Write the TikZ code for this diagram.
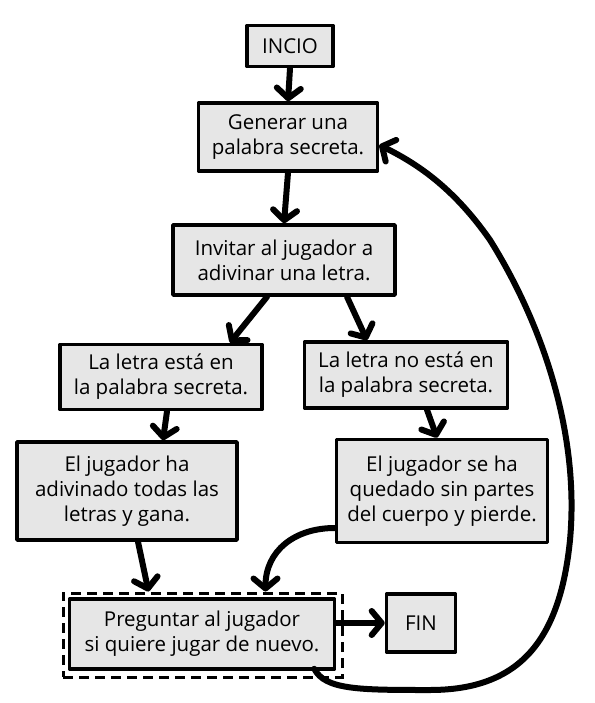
\documentclass[tikz,border=0pt]{standalone}
\usepackage{fontspec}
\setmainfont{Open Sans}
\usetikzlibrary{arrows.meta,fit}
\definecolor{boxgray}{HTML}{E6E6E6}
\tikzset{
  box/.style={draw=black, line width=3.6pt, line join=round, fill=boxgray, align=center, inner sep=0pt,
    font=\fontsize{20.5}{25}\selectfont},
  arr/.style={line width=6pt, line cap=round, -{Straight Barb[length=10pt,width=24pt,round]}},
  outer/.style={draw=black, line width=3pt, dash pattern=on 10pt off 6pt, inner sep=0pt}
}
\begin{document}
\begin{tikzpicture}[x=1pt,y=-1pt]
\useasboundingbox (0,0) rectangle (594,703);
\node[box, minimum width=86pt, minimum height=41pt] (incio) at (290,46) {INCIO};
\node[box, minimum width=179pt, minimum height=68pt] (gen) at (288,137) {Generar una\\palabra secreta.};
\node[box, minimum width=222pt, minimum height=70pt] (inv) at (284,260) {Invitar al jugador a\\adivinar una letra.};
\node[box, minimum width=202pt, minimum height=65pt] (esta) at (161,377) {La letra está en\\la palabra secreta.};
\node[box, minimum width=203pt, minimum height=66pt] (noesta) at (406,375) {La letra no está en\\la palabra secreta.};
\node[box, minimum width=220pt, minimum height=98pt] (gana) at (127,491) {El jugador ha\\adivinado todas las\\letras y gana.};
\node[box, minimum width=211pt, minimum height=103pt] (pierde) at (442,491) {El jugador se ha\\quedado sin partes\\del cuerpo y pierde.};
\node[box, minimum width=265pt, minimum height=70pt] (preg) at (202,634) {Preguntar al jugador\\si quiere jugar de nuevo.};
\node[outer, minimum width=279pt, minimum height=84pt] (prego) at (202.5,635) {};
\node[box, minimum width=69pt, minimum height=58pt] (fin) at (421,623) {FIN};

\draw[arr] (incio.south) -- (gen.north);
\draw[arr] (gen.south) -- (inv.north);
\draw[arr] ([xshift=-17pt]inv.south) -- ([xshift=69pt]esta.north);
\draw[arr] ([xshift=63pt]inv.south) -- ([xshift=-39pt]noesta.north);
\draw[arr] ([xshift=6pt]esta.south) -- ([xshift=2pt]esta.south |- gana.north);
\draw[arr] ([xshift=21pt]noesta.south) -- ([xshift=-5pt]pierde.north);
\draw[arr] ([xshift=11pt]gana.south) -- ([xshift=-54pt]prego.north);
\draw[arr] ([yshift=-37pt]pierde.west) to[out=180,in=90,looseness=1.1] ([xshift=63pt]prego.north);
\draw[arr] (preg.east |- fin.west) -- (fin.west);
\draw[arr] ([xshift=-22pt,yshift=2pt]preg.south east) .. controls (325,690) and (360,690) .. (430,690)
  .. controls (520,690) and (560,640) .. (570,540)
  .. controls (580,430) and (540,320) .. (490,240)
  .. controls (455,190) and (420,165) .. ([yshift=-8pt]gen.east);
\end{tikzpicture}
\end{document}
